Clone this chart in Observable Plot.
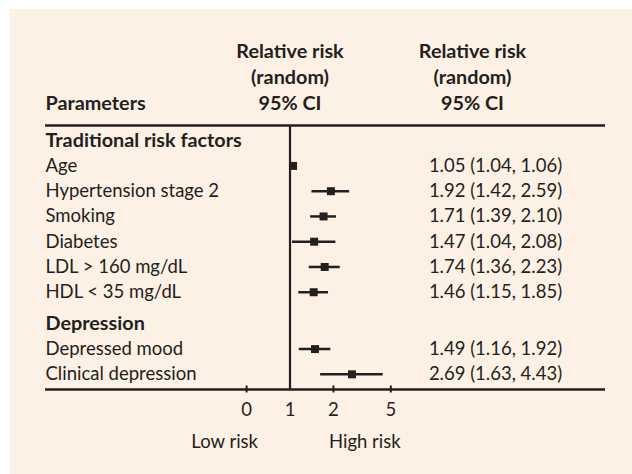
<!DOCTYPE html>
<html>
<head>
<meta charset="utf-8">
<script src="https://cdn.jsdelivr.net/npm/d3@7"></script>
<script src="https://cdn.jsdelivr.net/npm/@observablehq/plot@0.6"></script>
<style>
  html, body { margin: 0; padding: 0; background: #ffffff; }
  #chart { position: absolute; left: 10px; top: 9px; }
</style>
</head>
<body>
<div id="chart"></div>
<script>
// ---- data ----
const groups = ["Traditional risk factors", "Depression"];
const factors = ["Age", "Hypertension stage 2", "Smoking", "Diabetes", "LDL > 160 mg/dL", "HDL < 35 mg/dL", "Depressed mood", "Clinical depression"];
const factorGroup = [0, 0, 0, 0, 0, 0, 1, 1];
const rr = [1.05, 1.92, 1.71, 1.47, 1.74, 1.46, 1.49, 2.69];
const ciLow = [1.04, 1.42, 1.39, 1.04, 1.36, 1.15, 1.16, 1.63];
const ciHigh = [1.06, 2.59, 2.10, 2.08, 2.23, 1.85, 1.92, 4.43];
const tickValues = [0.5, 1, 2, 5];
const tickLabels = ["0", "1", "2", "5"];
const riskLabels = ["Low risk", "High risk"];
const columnHeader = ["Relative risk", "(random)", "95% CI"];
const firstHeader = "Parameters";

// ---- build table rows (row order with a small gap between groups) ----
const groupGap = 0.25;
const headerRows = [];
const itemRows = [];
let p = 0;
groups.forEach((g, gi) => {
  headerRows.push({label: g, pos: p});
  p += 1;
  factors.forEach((f, i) => {
    if (factorGroup[i] !== gi) return;
    itemRows.push({label: f, pos: p, rr: rr[i], lo: ciLow[i], hi: ciHigh[i]});
    p += 1;
  });
  p += groupGap;
});

const ink = "#231f20";
const fmt = d3.format(".2f");
const W = 622, H = 465;
const fs = 18.5;
const fsb = 19.8;

const chart = Plot.plot({
  width: W,
  height: H,
  marginTop: 116,
  marginBottom: 85,
  marginLeft: 35,
  marginRight: 27,
  style: {background: "#fdf0e4", fontFamily: "Lato, 'Open Sans', sans-serif", fontSize: fs + "px", color: ink},
  x: {type: "log", domain: [0.5, 5], range: [236.1, 380.3]},
  y: {domain: [-0.6, 9.85], reverse: true, axis: null},
  marks: [
    // table borders
    Plot.ruleY([-0.6, 9.85], {stroke: ink, strokeWidth: 2.5}),
    // no-effect line
    Plot.ruleX([1], {stroke: ink, strokeWidth: 2.2}),
    // tick marks on the axis line
    Plot.ruleX(tickValues.filter(d => d !== 1), {stroke: ink, strokeWidth: 2, insetTop: 260.5, insetBottom: -3.5}),
    Plot.axisX({ticks: tickValues, tickFormat: d => tickLabels[tickValues.indexOf(d)], tickSize: 0, tickPadding: 13, fontSize: fs, fill: ink, label: null}),
    // confidence intervals and point estimates
    Plot.ruleY(itemRows, {y: "pos", x1: "lo", x2: "hi", stroke: ink, strokeWidth: 2.5}),
    Plot.dot(itemRows, {x: "rr", y: "pos", symbol: "square", r: 4.5, fill: ink, stroke: null}),
    // left labels
    Plot.text(headerRows, {y: "pos", text: "label", frameAnchor: "left", textAnchor: "start", fontWeight: "bold", fill: ink, fontSize: fsb}),
    Plot.text(itemRows, {y: "pos", text: "label", frameAnchor: "left", textAnchor: "start", fill: ink, fontSize: fs}),
    // values column
    Plot.text(itemRows, {y: "pos", text: d => `${fmt(d.rr)} (${fmt(d.lo)}, ${fmt(d.hi)})`, frameAnchor: "right", textAnchor: "middle", dx: -110, fill: ink, fontSize: fs}),
    // column headers
    Plot.text([firstHeader], {text: d => d, frameAnchor: "top-left", textAnchor: "start", lineAnchor: "bottom", dy: -16, fontWeight: "bold", fill: ink, fontSize: fsb}),
    Plot.text([columnHeader.join("\n")], {x: () => 1, text: d => d, frameAnchor: "top", textAnchor: "middle", lineAnchor: "bottom", lineHeight: 26 / fsb, dy: -16, fontWeight: "bold", fill: ink, fontSize: fsb}),
    Plot.text([columnHeader.join("\n")], {text: d => d, frameAnchor: "top-right", textAnchor: "middle", lineAnchor: "bottom", lineHeight: 26 / fsb, dy: -16, dx: -133, fontWeight: "bold", fill: ink, fontSize: fsb}),
    // low / high risk
    Plot.text([riskLabels[0]], {x: () => 1, text: d => d, frameAnchor: "bottom", textAnchor: "end", lineAnchor: "bottom", dx: -32, dy: 58, fill: ink, fontSize: fs}),
    Plot.text([riskLabels[1]], {x: () => 1, text: d => d, frameAnchor: "bottom", textAnchor: "start", lineAnchor: "bottom", dx: 39, dy: 58, fill: ink, fontSize: fs})
  ]
});
document.getElementById("chart").appendChild(chart);
</script>
</body>
</html>
